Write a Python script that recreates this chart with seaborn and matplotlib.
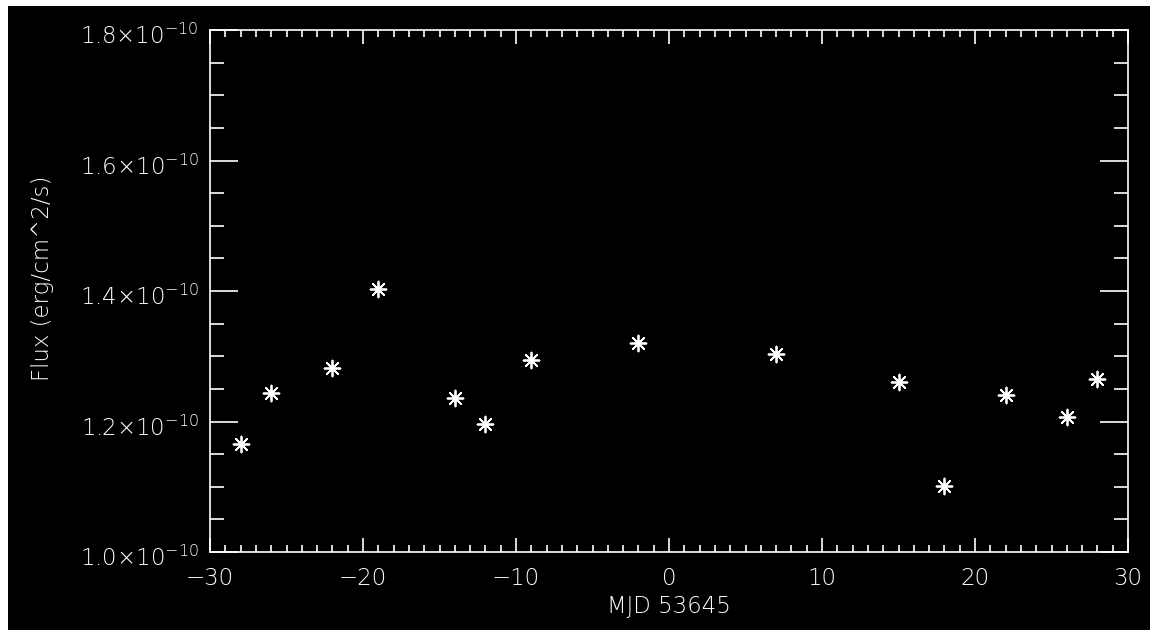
import matplotlib
matplotlib.use("Agg")
import matplotlib.pyplot as plt
import matplotlib.transforms as mtransforms
from matplotlib.patches import Rectangle
import seaborn as sns
import numpy as np
import pandas as pd
from matplotlib.ticker import FixedLocator, FuncFormatter

mjd = [-28, -26, -22, -19, -14, -12, -9, -2, 7, 15, 18, 22, 26, 28]
flux = [1.166e-10, 1.244e-10, 1.282e-10, 1.403e-10, 1.236e-10, 1.196e-10, 1.294e-10,
        1.320e-10, 1.303e-10, 1.261e-10, 1.101e-10, 1.241e-10, 1.207e-10, 1.265e-10]
x_ticks = [-30, -20, -10, 0, 10, 20, 30]
y_ticks = [1.0e-10, 1.2e-10, 1.4e-10, 1.6e-10, 1.8e-10]
x_label = "MJD 53645"
y_label = "Flux (erg/cm^2/s)"

sns.set_theme(style="dark")
plt.rcParams['font.family'] = ['DejaVu Sans']
plt.rcParams['mathtext.fontset'] = 'custom'
plt.rcParams['mathtext.rm'] = 'DejaVu Sans:light'
plt.rcParams['mathtext.it'] = 'DejaVu Sans:light'
plt.rcParams['mathtext.bf'] = 'DejaVu Sans:light'

W, H = 1155, 630
fig = plt.figure(figsize=(W / 100, H / 100), dpi=100, facecolor='white')
# black canvas with thin white margin on top/left/right
fig.patches.append(Rectangle((8 / W, 0), (1150 - 8) / W, (H - 6) / H,
                             transform=fig.transFigure, facecolor='black',
                             edgecolor='none', zorder=-10))

ax = fig.add_axes([210 / W, 1 - 552 / H, (1128 - 210) / W, (552 - 30) / H])
ax.set_facecolor('black')

df = pd.DataFrame({'x': mjd, 'y': flux})
sns.scatterplot(data=df, x='x', y='y', ax=ax, marker=(8, 2, 0), s=130,
                color='white', edgecolor='white', linewidth=1.3, zorder=3)

ax.set_xlim(x_ticks[0], x_ticks[-1])
ax.set_ylim(y_ticks[0], y_ticks[-1])
ax.xaxis.set_major_locator(FixedLocator(x_ticks))
ax.xaxis.set_minor_locator(FixedLocator(np.arange(x_ticks[0], x_ticks[-1] + 0.5, 1.0)))
ax.yaxis.set_major_locator(FixedLocator(y_ticks))
ax.yaxis.set_minor_locator(FixedLocator(np.linspace(y_ticks[0], y_ticks[-1], 17)))


def xfmt(v, pos):
    return f"{int(round(v))}".replace('-', '\u2212')


def yfmt(v, pos):
    return r"$%.1f{\times}10^{-10}$" % (v / 1e-10)


ax.xaxis.set_major_formatter(FuncFormatter(xfmt))
ax.yaxis.set_major_formatter(FuncFormatter(yfmt))

for sp in ax.spines.values():
    sp.set_color('white')
    sp.set_linewidth(1.2)
    sp.set_visible(True)

FS = 16.5
ax.tick_params(axis='x', which='major', direction='in', length=10, width=1.2,
               color='white', labelcolor='white', labelsize=FS, top=True, bottom=True, pad=11)
ax.tick_params(axis='x', which='minor', direction='in', length=5, width=1.2,
               color='white', top=True, bottom=True)
ax.tick_params(axis='y', which='major', direction='in', length=20, width=1.2,
               color='white', labelcolor='white', labelsize=FS, left=True, right=True, pad=8)
ax.tick_params(axis='y', which='minor', direction='in', length=10, width=1.2,
               color='white', left=True, right=True)

for lab in ax.get_xticklabels() + ax.get_yticklabels():
    lab.set_fontweight('light')

# shift y tick labels slightly down (main text centred just under the tick)
offset = mtransforms.ScaledTranslation(0, -4 / 100, fig.dpi_scale_trans)
for lab in ax.get_yticklabels():
    lab.set_transform(lab.get_transform() + offset)

ax.grid(False)
ax.set_xlabel("")
ax.set_ylabel("")
ax.xaxis.label.set_visible(False)
ax.yaxis.label.set_visible(False)
fig.text(669 / W, 1 - 606 / H, x_label, color='white', fontsize=FS,
         fontweight='light', ha='center', va='center')
fig.text(43 / W, 1 - 278 / H, y_label, color='white', fontsize=FS,
         fontweight='light', ha='center', va='center', rotation=90)

fig.savefig('out.png', dpi=100)
